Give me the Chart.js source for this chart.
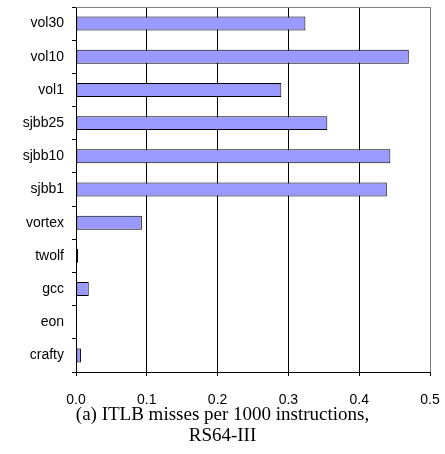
<!DOCTYPE html>
<html>
<head>
<meta charset="utf-8">
<script src="https://cdn.jsdelivr.net/npm/chart.js@4/dist/chart.umd.min.js"></script>
<style>
html,body{margin:0;padding:0;background:#fff;}
#wrap{width:445px;height:454px;}
</style>
</head>
<body>
<div id="wrap"><canvas id="c" width="445" height="454"></canvas></div>
<script>
const categories = ["vol30","vol10","vol1","sjbb25","sjbb10","sjbb1","vortex","twolf","gcc","eon","crafty"];
const itlbMisses = [0.324,0.470,0.290,0.355,0.444,0.439,0.093,0.003,0.018,0,0.007];
const xTicks = [0,0.1,0.2,0.3,0.4,0.5];
const titleLines = ["(a) ITLB misses per 1000 instructions,","RS64-III"];

const framePlugin = {
  id:'frame',
  beforeDatasetsDraw(chart){
    const a = chart.chartArea, ctx = chart.ctx;
    ctx.save();
    ctx.strokeStyle = '#808080';
    ctx.lineWidth = 1;
    ctx.beginPath();
    ctx.moveTo(a.left, Math.round(a.top)+0.5);
    ctx.lineTo(Math.round(a.right)+0.5, Math.round(a.top)+0.5);
    ctx.lineTo(Math.round(a.right)+0.5, a.bottom);
    ctx.stroke();
    ctx.restore();
  }
};

new Chart(document.getElementById('c'), {
  type:'bar',
  data:{
    labels:categories,
    datasets:[{
      data:itlbMisses,
      backgroundColor:'#9999FF',
      borderColor:'#000000',
      borderWidth:1,
      borderSkipped:false,
      categoryPercentage:1.0,
      barPercentage:0.42
    }]
  },
  options:{
    indexAxis:'y',
    responsive:false,
    animation:false,
    devicePixelRatio:1,
    layout:{padding:0},
    plugins:{
      legend:{display:false},
      tooltip:{enabled:false},
      title:{
        display:true,
        position:'bottom',
        text:titleLines,
        color:'#000',
        font:{family:'"Liberation Serif","Times New Roman",serif',size:19,weight:'normal',lineHeight:'21px'},
        padding:{top:-7,bottom:7}
      }
    },
    scales:{
      x:{
        min:0,max:0.5,
        afterBuildTicks(s){ s.ticks = xTicks.map(v=>({value:v})); },
        afterFit(s){ s.height = 40; s.paddingRight = 15; s.paddingLeft = 0; },
        ticks:{
          color:'#000',
          padding:16,
          font:{family:'"Liberation Sans",Arial,sans-serif',size:14},
          callback:(v)=>Number(v).toFixed(1),
          maxRotation:0
        },
        grid:{
          color:(c)=> (c.index===xTicks.length-1 ? '#808080' : '#000'),
          tickColor:'#000',
          tickLength:4,
          lineWidth:1
        },
        border:{color:'#000',width:1}
      },
      y:{
        afterFit(s){ s.width = 76; s.paddingTop = 7; s.paddingBottom = 0; },
        ticks:{
          color:'#000',
          padding:8,
          font:{family:'"Liberation Sans",Arial,sans-serif',size:14,lineHeight:1}
        },
        grid:{
          offset:true,
          drawOnChartArea:false,
          color:'#000',
          tickLength:4
        },
        border:{color:'#000',width:1}
      }
    }
  },
  plugins:[framePlugin]
});
</script>
</body>
</html>
